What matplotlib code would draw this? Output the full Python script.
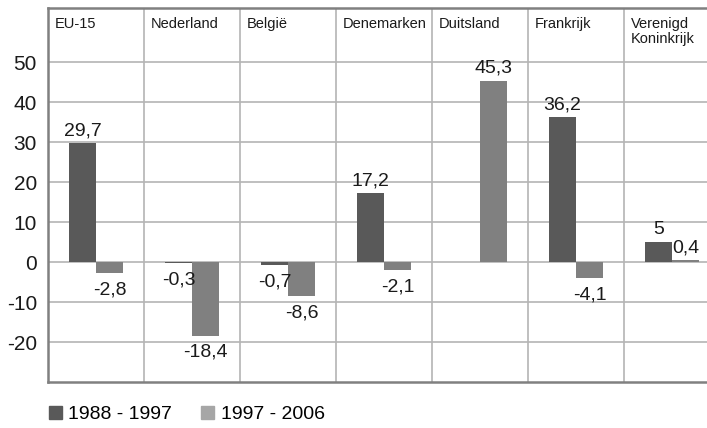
import numpy as np
import matplotlib
matplotlib.use("Agg")
import matplotlib.pyplot as plt
from matplotlib.patches import Patch

plt.rcParams['font.family'] = ['Liberation Sans', 'DejaVu Sans']

# data
landen = ['EU-15', 'Nederland', 'België', 'Denemarken', 'Duitsland',
          'Frankrijk', 'Verenigd\nKoninkrijk']
periode1 = [29.7, -0.3, -0.7, 17.2, np.nan, 36.2, 5]
periode2 = [-2.8, -18.4, -8.6, -2.1, 45.3, -4.1, 0.4]
reeksen = ['1988 - 1997', '1997 - 2006']
yticks = [-20, -10, 0, 10, 20, 30, 40, 50]

kleur_donker = '#595959'
kleur_licht = '#808080'
kleur_legenda_licht = '#a6a6a6'
grid_kleur = '#b4b4b4'


def fmt(v):
    if float(v).is_integer():
        return str(int(v))
    return ('%.1f' % v).replace('.', ',')


fig = plt.figure(figsize=(7.07, 4.28), dpi=100)
ax = fig.add_axes([48/707, 46/428, 672/707, 374/428])

x = np.arange(len(landen))
w = 0.28
ax.bar(x - w/2, periode1, w, color=kleur_donker, zorder=3)
ax.bar(x + w/2, periode2, w, color=kleur_licht, zorder=3)

ax.set_xlim(-0.5, len(landen) - 0.5)
ax.set_ylim(-30, 63.5)

# grid
for t in range(-20, 60, 10):
    ax.axhline(t, color=grid_kleur, lw=1.2, zorder=1)
for b in np.arange(0.5, len(landen), 1):
    ax.axvline(b, color=grid_kleur, lw=1.2, zorder=1)

# value labels
for xs, vals in [(x - w/2, periode1), (x + w/2, periode2)]:
    for xi, v in zip(xs, vals):
        if np.isnan(v):
            continue
        if v >= 0:
            ax.annotate(fmt(v), (xi, v), xytext=(0, 3), textcoords='offset points',
                        ha='center', va='bottom', fontsize=14, color='#1a1a1a', zorder=4)
        else:
            ax.annotate(fmt(v), (xi, v), xytext=(0, -6), textcoords='offset points',
                        ha='center', va='top', fontsize=14, color='#1a1a1a', zorder=4)

# category headers
for i, naam in enumerate(landen):
    ax.text(i - 0.43, 61.3, naam, ha='left', va='top', fontsize=10.5,
            color='#1a1a1a', linespacing=1.1, zorder=4)

ax.set_yticks(yticks)
ax.set_yticklabels([str(t) for t in yticks], fontsize=15, color='#1a1a1a')
ax.set_xticks([])
ax.tick_params(axis='y', length=0, pad=8)

for s in ['left', 'bottom', 'top']:
    ax.spines[s].set_color('#808080')
    ax.spines[s].set_linewidth(1.8)
ax.spines['right'].set_visible(False)

handles = [Patch(color=kleur_donker), Patch(color=kleur_legenda_licht)]
fig.legend(handles, reeksen, loc='lower left', bbox_to_anchor=(44/707, 0.0),
           ncol=2, frameon=False, fontsize=14, handlelength=0.65, handleheight=0.65,
           handletextpad=0.35, columnspacing=1.5, borderaxespad=0.0, borderpad=0.25)

fig.savefig('out.png', dpi=100)
